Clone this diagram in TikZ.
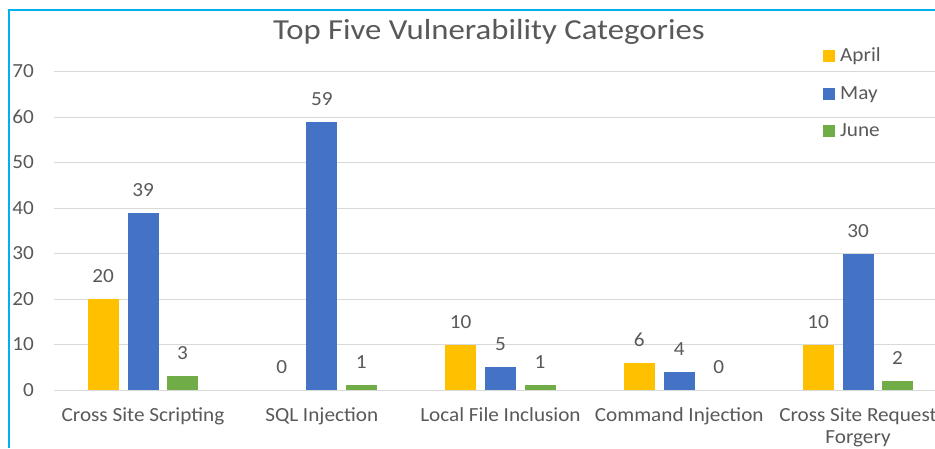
\documentclass[tikz,border=0pt]{standalone}
\usepackage{fontspec}
\setmainfont{Carlito}
\newfontfamily\lblfont[FakeStretch=1.06]{Carlito}
\newfontfamily\ttlfont[FakeStretch=1.13]{Carlito}
\definecolor{apr}{HTML}{FFC000}
\definecolor{may}{HTML}{4472C4}
\definecolor{jun}{HTML}{70AD47}
\definecolor{grid}{HTML}{D9D9D9}
\definecolor{frame}{HTML}{00B0F0}
\definecolor{txt}{HTML}{595959}
\begin{document}
\begin{tikzpicture}[x=1pt,y=-1pt,
  lbl/.style={font=\lblfont\fontsize{20}{22}\selectfont, text=txt, inner sep=0pt, anchor=base},
  ylbl/.style={lbl, anchor=base east},
  val/.style={lbl}]
\useasboundingbox (0,0) rectangle (935,448);
\fill[white] (0,0) rectangle (935,448);
% frame
\draw[frame, line width=2pt] (9,448) -- (9,10) -- (935,10);
% grid and y labels
\foreach \v in {0,10,...,70}{
  \pgfmathsetmacro{\yy}{390-\v*4.543}
  \draw[grid, line width=1pt] (54,\yy) -- (935,\yy);
  \node[ylbl] (y\v) at (34,\yy+6) {\v};
}
% title
\node[lbl, font=\ttlfont\fontsize{29}{32}\selectfont] (title) at (489,39.5) {Top Five Vulnerability Categories};
% bars
\foreach \i/\a/\m/\j/\name [count=\k] in {0/20/39/3/Cross Site Scripting, 1/0/59/1/SQL Injection, 2/10/5/1/Local File Inclusion, 3/6/4/0/Command Injection}{
  \pgfmathsetmacro{\c}{143+178.75*\i}
  \foreach \v/\off/\col/\s in {\a/-40/apr/a, \m/0/may/m, \j/39.5/jun/j}{
    \pgfmathsetmacro{\h}{\v*4.543}
    \ifdim\h pt>0pt
      \fill[\col] (\c+\off-15.5,390) rectangle (\c+\off+15.5,390-\h);
    \fi
    \node[val] (v\k\s) at (\c+\off,390-\h-16.5) {\v};
  }
  \node[lbl] (cat\k) at (\c,421) {\name};
}
% CSRF group
\pgfmathsetmacro{\c}{143+178.75*4}
\foreach \v/\off/\col/\s in {10/-40/apr/a, 30/0/may/m, 2/39.5/jun/j}{
  \pgfmathsetmacro{\h}{\v*4.543}
  \fill[\col] (\c+\off-15.5,390) rectangle (\c+\off+15.5,390-\h);
  \node[val] (v5\s) at (\c+\off,390-\h-16.5) {\v};
}
\node[lbl] (cat5) at (\c,421) {Cross Site Request};
\node[lbl] (cat5b) at (\c,443) {Forgery};
% legend
\fill[apr] (823,50) rectangle (835,62);
\node[lbl, anchor=base west] (lapr) at (840,61) {April};
\fill[may] (823,88) rectangle (835,99.5);
\node[lbl, anchor=base west] (lmay) at (840,99) {May};
\fill[jun] (823,125) rectangle (835,137);
\node[lbl, anchor=base west] (ljun) at (840,136) {June};
\end{tikzpicture}
\end{document}
